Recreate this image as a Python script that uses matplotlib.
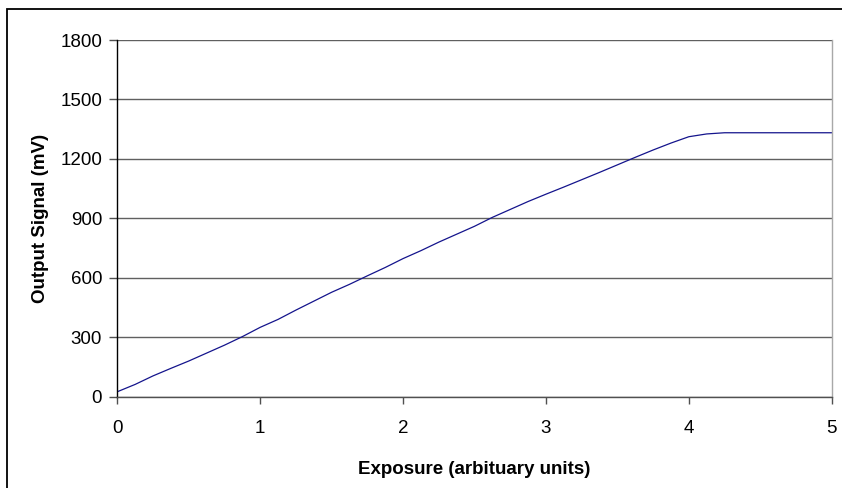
import numpy as np
import matplotlib
matplotlib.use("Agg")
import matplotlib.pyplot as plt
from matplotlib.patches import Rectangle

plt.rcParams['font.family'] = ['Liberation Sans', 'DejaVu Sans']

# exposure steps (arbitrary units) and measured output (mV)
exposure = [0, 0.125, 0.25, 0.375, 0.5, 0.625, 0.75, 0.875, 1.0, 1.125,
            1.25, 1.375, 1.5, 1.625, 1.75, 1.875, 2.0, 2.125, 2.25, 2.375,
            2.5, 2.625, 2.75, 2.875, 3.0, 3.125, 3.25, 3.375, 3.5, 3.625,
            3.75, 3.875, 4.0, 4.125, 4.25, 4.375, 4.5, 4.625, 4.75, 4.875, 5.0]
signal = [25, 62, 105, 143, 180, 220, 260, 303, 350, 390,
          437, 482, 527, 567, 610, 652, 697, 737, 780, 820,
          860, 905, 945, 985, 1022, 1058, 1095, 1132, 1170, 1208,
          1245, 1280, 1312, 1326, 1332, 1332, 1332, 1332, 1332, 1332, 1332]

yticks = [0, 300, 600, 900, 1200, 1500, 1800]
xticks = [0, 1, 2, 3, 4, 5]

fig = plt.figure(figsize=(8.42, 4.88), dpi=100)
ax = fig.add_axes([0.1393, 0.1871, 0.8485, 0.7309])

ax.plot(exposure, signal, color='#14148c', lw=0.9)

ax.set_xlim(0, 5)
ax.set_ylim(0, 1800)
ax.set_xticks(xticks)
ax.set_yticks(yticks)
ax.yaxis.grid(True, color='#606060', lw=1.0)
ax.set_axisbelow(True)

ax.spines['top'].set_visible(False)
ax.spines['left'].set_color('black')
ax.spines['bottom'].set_color('#505050')
ax.spines['right'].set_color('#a8a8a8')
for s in ax.spines.values():
    s.set_linewidth(1.0)

ax.tick_params(axis='y', direction='out', length=6, width=1, color='#505050',
               labelsize=13.5, pad=5)
ax.tick_params(axis='x', direction='out', length=5, width=1, color='#505050',
               labelsize=13.5, pad=12)

ax.set_xlabel('Exposure (arbituary units)', fontsize=13.5, fontweight='bold', labelpad=17)
ax.set_ylabel('Output Signal (mV)', fontsize=13.5, fontweight='bold', labelpad=8)

# chart frame
fig.patches.append(Rectangle((7 / 842, -0.1), 1.2, 1 - 9 / 488 + 0.1,
                             transform=fig.transFigure, fill=False,
                             edgecolor='black', lw=1.3))

fig.savefig('out.png', dpi=100)
